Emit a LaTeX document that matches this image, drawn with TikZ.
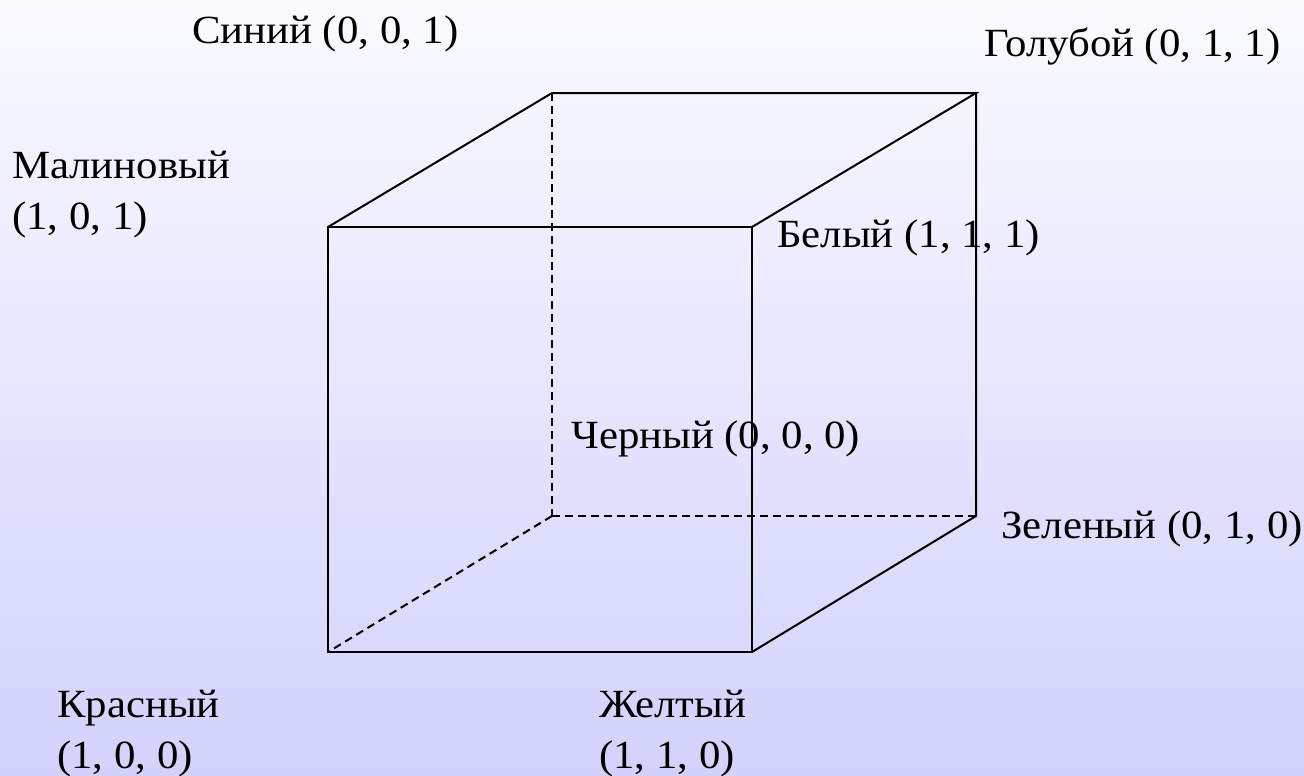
\documentclass[tikz,border=0pt]{standalone}
\usepackage{fontspec}
\setmainfont{Liberation Serif}[FakeStretch=1.07]
\begin{document}
\begin{tikzpicture}[x=1pt,y=-1pt,
  edge/.style={line width=2pt,black},
  hidden/.style={line width=2pt,black,dash pattern=on 8pt off 5pt},
  lbl/.style={anchor=base west,inner sep=0pt,font=\fontsize{40}{51}\selectfont,align=left}]
\shade[top color={rgb,255:red,250;green,250;blue,255},bottom color={rgb,255:red,210;green,210;blue,252}] (0,0) rectangle (1304,776);
\useasboundingbox (0,0) rectangle (1304,776);
% vertices
\coordinate (R) at (328,652);
\coordinate (Y) at (752,652);
\coordinate (W) at (752,227);
\coordinate (M) at (328,227);
\coordinate (K) at (552,516);
\coordinate (G) at (976,516);
\coordinate (C) at (976,93);
\coordinate (B) at (552,93);
% visible edges
\draw[edge] (R) -- (Y) -- (W) -- (M) -- cycle;
\draw[edge] (M) -- (B) -- (C) -- (W);
\draw[edge] (C) -- (G) -- (Y);
% hidden edges
\draw[hidden] (B) -- (K);
\draw[hidden] (K) -- (G);
\draw[hidden] (K) -- (R);
% labels
\node[lbl] (lB) at (192,44) {Синий (0, 0, 1)};
\node[lbl] (lC) at (984,57) {Голубой (0, 1, 1)};
\node[lbl] (lM) at (12,229) {Малиновый\\(1, 0, 1)};
\node[lbl] (lW) at (777,247) {Белый (1, 1, 1)};
\node[lbl] (lK) at (571,448) {Черный (0, 0, 0)};
\node[lbl] (lG) at (1001,538) {Зеленый (0, 1, 0)};
\node[lbl] (lR) at (57,768) {Красный\\(1, 0, 0)};
\node[lbl] (lY) at (599,768) {Желтый\\(1, 1, 0)};
\end{tikzpicture}
\end{document}
